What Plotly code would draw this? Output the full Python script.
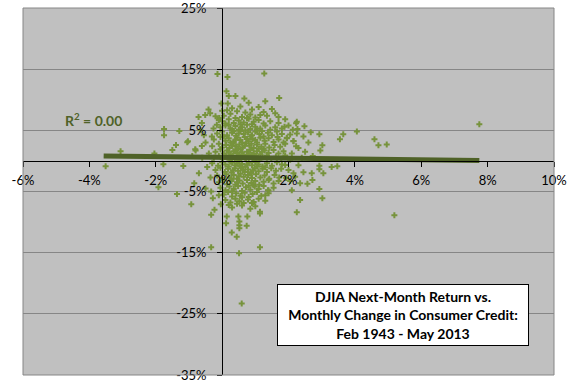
import plotly.graph_objects as go

# (monthly change in consumer credit %, DJIA next-month return %)
observations = [
    # outliers / sparse points
    (-0.14, 14.2), (0.16, 13.7), (1.27, 14.3), (0.13, 11.4), (0.2, 10.6), (0.4, 10.6),
    (-0.02, 9.4), (0.17, 9.4), (0.67, 10.2), (0.8, 9.5), (1.3, 9.75), (1.72, 10.3),
    (-0.41, 8.4), (-0.36, 7.8), (-0.51, 7.5), (-0.71, 7.2), (-0.09, 7.0), (0.0, 8.2),
    (1.7, 7.2), (-0.61, 6.2), (-0.16, 5.9), (-1.75, 5.2), (-1.75, 4.2), (-1.29, 4.9),
    (-1.03, 3.2), (-1.5, 1.8), (-0.81, 1.9), (-0.61, 2.45), (-0.31, 4.0), (-0.26, 5.3),
    (2.25, 6.4), (1.88, 5.6), (2.13, 5.1), (2.25, 4.5), (1.95, 3.7), (1.67, 3.9),
    (2.15, 3.2), (2.3, 2.1), (-3.06, 1.6), (-3.51, -0.87), (-2.04, 1.2), (-1.39, 2.6),
    (-1.05, 3.05), (-0.8, 1.7), (-1.77, -0.55), (-1.17, -0.85), (-1.92, -4.3), (-1.36, -5.4),
    (-0.84, -3.65), (-0.93, -7.1), (-0.33, -5.0), (-0.28, -6.1), (-0.23, -8.0), (-0.33, -8.8),
    (-0.04, -7.1), (0.12, -10.2), (0.29, -11.7), (0.44, -12.4), (0.52, -9.9), (0.52, -10.5),
    (0.52, -11.0), (0.74, -10.6), (0.76, -9.1), (1.14, -8.3), (1.14, -8.6), (2.25, -8.4),
    (1.93, -2.8), (2.15, -2.0), (1.9, -0.65), (0.51, -15.1), (1.14, -14.1), (-0.33, -14.1),
    (0.14, -9.1), (0.49, -9.1), (0.9, -6.9), (1.3, -5.6), (1.4, -4.85),
    (7.75, 6.0), (4.06, 4.8), (3.65, 4.35), (3.55, 3.55), (4.59, 3.55), (4.71, 2.55),
    (4.96, 2.7), (2.93, 4.35), (3.02, 2.55), (2.96, 1.7), (2.67, 4.7), (2.48, 5.65),
    (2.23, 6.15), (2.27, 5.2), (2.15, 3.27), (2.23, 2.4), (2.73, 0.8), (3.3, -1.0),
    (3.47, -0.87), (2.93, -0.8), (2.93, -1.35), (3.05, -2.0), (2.7, -2.0), (2.72, -3.1),
    (2.45, -1.85), (2.57, -3.75), (2.35, -3.65), (2.93, -4.6), (3.02, -6.1), (2.35, -6.4),
    (5.19, -8.9), (0.59, -23.3),
    (-0.5, 3.0), (-0.6, 0.5), (-0.45, -1.0), (-0.7, -2.0), (-0.55, 4.2), (-0.4, 1.2),
    (-0.9, 0.8), (-0.35, -2.7), (-0.5, -4.5), (-0.65, 5.0),
    (2.1, 1.2), (2.4, 0.5), (2.3, -0.7), (2.0, -1.5), (2.2, -2.6), (2.5, 1.5),
    (2.6, 3.0), (2.05, -3.3), (2.8, 0.3), (2.1, -4.8), (2.45, 4.0), (2.05, 0.2),
    # dense cluster
    (0.3, 8.6), (0.55, 8.9), (0.9, 8.4), (1.1, 8.8), (0.45, 8.1), (0.7, 7.9), (1.25, 8.0),
    (0.15, 8.3), (1.5, 8.5),
    (0.05, 7.4), (0.25, 7.7), (0.6, 7.2), (0.85, 7.6), (1.0, 7.1), (1.35, 7.4), (0.4, 7.0),
    (1.6, 7.8), (1.15, 7.5), (0.75, 7.0), (-0.2, 7.3),
    (0.0, 6.5), (0.2, 6.8), (0.35, 6.2), (0.5, 6.6), (0.65, 6.3), (0.8, 6.9), (0.95, 6.4),
    (1.1, 6.7), (1.25, 6.1), (1.45, 6.5), (1.7, 6.2), (0.1, 6.1), (0.55, 6.0), (0.9, 6.0),
    (1.9, 6.8), (-0.1, 6.7),
    (-0.05, 5.5), (0.1, 5.8), (0.25, 5.3), (0.4, 5.7), (0.5, 5.1), (0.6, 5.5), (0.75, 5.9),
    (0.85, 5.2), (1.0, 5.6), (1.15, 5.3), (1.3, 5.8), (1.45, 5.1), (1.6, 5.5), (1.8, 5.3),
    (0.3, 5.0), (0.7, 5.0), (1.05, 5.0), (2.0, 5.8), (0.2, 5.9),
    (-0.15, 4.5), (0.0, 4.8), (0.15, 4.2), (0.3, 4.6), (0.42, 4.1), (0.55, 4.9), (0.65, 4.4),
    (0.78, 4.7), (0.9, 4.2), (1.0, 4.8), (1.12, 4.4), (1.25, 4.0), (1.38, 4.6), (1.5, 4.2),
    (1.65, 4.8), (1.8, 4.4), (0.05, 4.0), (0.5, 4.5), (0.85, 4.0), (1.2, 4.9), (2.05, 4.3),
    (0.35, 4.9),
    (-0.25, 3.5), (-0.05, 3.9), (0.1, 3.3), (0.2, 3.7), (0.35, 3.1), (0.45, 3.8), (0.55, 3.4),
    (0.68, 3.9), (0.8, 3.2), (0.92, 3.6), (1.05, 3.0), (1.15, 3.8), (1.28, 3.3), (1.4, 3.7),
    (1.55, 3.1), (1.7, 3.5), (1.85, 3.0), (0.25, 3.0), (0.6, 3.0), (1.0, 3.4), (0.75, 3.6),
    (0.4, 3.5), (1.95, 3.8),
    (-0.3, 2.4), (-0.1, 2.8), (0.0, 2.2), (0.12, 2.6), (0.22, 2.1), (0.32, 2.9), (0.42, 2.4),
    (0.52, 2.7), (0.62, 2.2), (0.72, 2.9), (0.82, 2.5), (0.95, 2.1), (1.05, 2.7), (1.18, 2.3),
    (1.3, 2.8), (1.42, 2.2), (1.58, 2.6), (1.75, 2.3), (0.48, 2.0), (0.88, 2.8), (1.1, 2.0),
    (0.3, 2.5), (0.68, 2.5), (1.9, 2.8), (1.25, 2.0),
    (-0.2, 1.5), (-0.05, 1.9), (0.05, 1.2), (0.15, 1.7), (0.25, 1.1), (0.35, 1.6), (0.45, 1.3),
    (0.55, 1.9), (0.65, 1.0), (0.75, 1.5), (0.85, 1.8), (0.95, 1.2), (1.05, 1.6), (1.15, 1.1),
    (1.28, 1.7), (1.4, 1.3), (1.55, 1.8), (1.7, 1.2), (0.4, 1.8), (0.6, 1.4), (0.9, 1.0),
    (1.2, 1.5), (0.2, 1.4), (1.85, 1.6), (0.8, 1.1), (0.5, 1.0),
    (-0.25, 0.5), (-0.1, 0.8), (0.02, 0.3), (0.12, 0.7), (0.22, 0.2), (0.32, 0.9), (0.42, 0.5),
    (0.52, 0.1), (0.62, 0.7), (0.72, 0.3), (0.82, 0.9), (0.92, 0.4), (1.02, 0.8), (1.12, 0.2),
    (1.22, 0.6), (1.35, 0.9), (1.48, 0.3), (1.62, 0.7), (1.78, 0.4), (0.38, 0.4), (0.68, 0.5),
    (0.98, 0.1), (0.28, 0.6), (1.9, 0.9), (0.58, 0.95),
    (-0.3, -0.4), (-0.12, -0.8), (0.0, -0.2), (0.1, -0.6), (0.2, -0.9), (0.3, -0.3), (0.4, -0.7),
    (0.5, -0.1), (0.6, -0.5), (0.7, -0.95), (0.8, -0.3), (0.9, -0.7), (1.0, -0.2), (1.1, -0.6),
    (1.22, -0.9), (1.35, -0.4), (1.5, -0.8), (1.65, -0.2), (1.8, -0.6), (0.45, -0.45),
    (0.75, -0.6), (1.05, -0.9), (0.25, -0.15), (0.55, -0.85),
    (-0.2, -1.5), (-0.05, -1.1), (0.08, -1.8), (0.18, -1.3), (0.28, -1.9), (0.38, -1.2),
    (0.48, -1.6), (0.58, -1.1), (0.68, -1.8), (0.78, -1.4), (0.88, -1.9), (0.98, -1.2),
    (1.1, -1.7), (1.22, -1.3), (1.35, -1.8), (1.48, -1.2), (1.62, -1.6), (1.78, -1.3),
    (0.33, -1.55), (0.63, -1.45), (0.93, -1.55), (1.3, -1.05),
    (-0.15, -2.4), (0.0, -2.8), (0.12, -2.2), (0.22, -2.7), (0.35, -2.3), (0.45, -2.9),
    (0.55, -2.1), (0.65, -2.6), (0.78, -2.3), (0.9, -2.8), (1.02, -2.2), (1.15, -2.7),
    (1.28, -2.4), (1.42, -2.9), (1.58, -2.3), (1.72, -2.7), (0.5, -2.5), (0.85, -2.1),
    (0.28, -2.95),
    (-0.1, -3.5), (0.05, -3.1), (0.15, -3.8), (0.28, -3.3), (0.4, -3.9), (0.52, -3.2),
    (0.62, -3.7), (0.75, -3.1), (0.88, -3.6), (1.0, -3.3), (1.12, -3.9), (1.25, -3.4),
    (1.4, -3.1), (1.55, -3.7), (1.7, -3.3), (0.45, -3.5), (0.95, -3.95),
    (-0.05, -4.4), (0.1, -4.8), (0.22, -4.2), (0.35, -4.6), (0.48, -4.1), (0.6, -4.9),
    (0.72, -4.3), (0.85, -4.7), (0.98, -4.2), (1.1, -4.6), (1.25, -4.1), (1.38, -4.8),
    (1.55, -4.4), (0.3, -4.95), (0.8, -4.05),
    (0.05, -5.5), (0.18, -5.1), (0.3, -5.8), (0.42, -5.3), (0.55, -5.7), (0.68, -5.2),
    (0.8, -5.9), (0.92, -5.4), (1.05, -5.1), (1.18, -5.7), (1.4, -5.3), (0.6, -5.95),
    (-0.1, -5.6),
    (0.1, -6.4), (0.25, -6.8), (0.4, -6.2), (0.52, -6.6), (0.65, -6.9), (0.78, -6.3),
    (0.95, -6.7), (1.1, -6.2), (1.3, -6.5), (0.45, -7.0),
    (0.3, -7.6), (0.6, -7.3), (0.85, -7.8), (1.0, -7.4), (0.2, -7.2),
]
credit_change = [p[0] for p in observations]
next_return = [p[1] for p in observations]

trend_x = [-3.57, 7.75]
trend_y = [0.82, 0.05]

x_ticks = [-6, -4, -2, 0, 2, 4, 6, 8, 10]
x_labels = ["-6%", "-4%", "-2%", "0%", "2%", "4%", "6%", "8%", "10%"]
y_ticks = [-35, -25, -15, -5, 5, 15, 25]
y_labels = ["-35%", "-25%", "-15%", "-5%", "5%", "15%", "25%"]

title_lines = ["DJIA Next-Month Return vs.", "Monthly Change in Consumer Credit:", "Feb 1943 - May 2013"]
r2_text = "R<sup>2</sup> = 0.00"

FONT = "Lato"

fig = go.Figure()
fig.add_trace(go.Scatter(
    x=credit_change, y=next_return, mode="markers",
    marker=dict(symbol="cross", size=5, color="#77933c", line=dict(width=0)),
    showlegend=False, hoverinfo="skip",
))
fig.add_trace(go.Scatter(
    x=trend_x, y=trend_y, mode="lines",
    line=dict(color="#4f6228", width=5),
    showlegend=False, hoverinfo="skip",
))

fig.update_layout(
    width=576, height=384,
    margin=dict(l=23, r=22, t=8, b=9, autoexpand=False),
    paper_bgcolor="white", plot_bgcolor="#c0c0c0",
    font=dict(family=FONT, size=13, color="black"),
    xaxis=dict(
        range=[-6, 10], tickmode="array", tickvals=x_ticks, ticktext=x_labels,
        showgrid=False, zeroline=False, showline=True, linecolor="black", linewidth=1,
        ticks="outside", ticklen=5, tickcolor="black", tickwidth=1,
        anchor="free", position=35 / 60, ticklabelstandoff=2,
        automargin=False, ticklabeloverflow="allow",
        tickfont=dict(family=FONT, size=13, color="black"),
    ),
    yaxis=dict(
        range=[-35, 25], tickmode="array", tickvals=y_ticks, ticktext=y_labels,
        showgrid=True, gridcolor="#868686", gridwidth=1,
        zeroline=False, showline=True, linecolor="black", linewidth=1,
        ticks="outside", ticklen=5, tickcolor="black", tickwidth=1,
        anchor="free", position=6 / 16, ticklabelstandoff=8,
        automargin=False, ticklabeloverflow="allow",
        tickfont=dict(family=FONT, size=13, color="black"),
    ),
    shapes=[dict(type="rect", xref="paper", yref="paper", x0=0, y0=0, x1=1, y1=1,
                 line=dict(color="#868686", width=1))],
    annotations=[
        dict(xref="x", yref="y", x=-4.8, y=6.7, xanchor="left", yanchor="middle",
             text="<b>" + r2_text + "</b>", showarrow=False,
             font=dict(family=FONT, size=14, color="#4f6228")),
        dict(xref="paper", yref="paper", x=0.7156, y=0.1635, xanchor="center", yanchor="middle",
             text="<b>" + "<br>".join(title_lines) + "</b>", showarrow=False,
             width=248, height=58, bgcolor="white", bordercolor="black", borderwidth=1,
             font=dict(family=FONT, size=14, color="black")),
    ],
)

fig.write_html("out.html", config={"displayModeBar": False},
               post_script="document.body.style.margin='0';")
